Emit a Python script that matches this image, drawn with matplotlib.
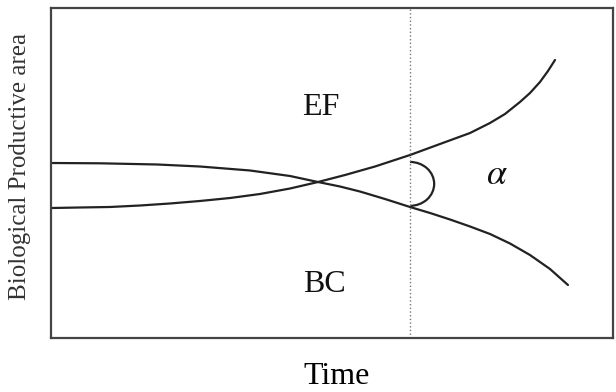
import matplotlib
matplotlib.use("Agg")
import matplotlib.pyplot as plt
from matplotlib.patches import Arc

# Data (abstract units, x: time 0-10, y: area 0-10)
ef_x = [0.0, 0.516, 1.050, 1.584, 2.117, 2.651, 3.185, 3.719, 4.253, 4.751, 5.231, 5.765,
        6.388, 6.922, 7.456, 7.811, 8.078, 8.345, 8.523, 8.701, 8.843, 8.968]
ef_y = [3.939, 3.955, 3.970, 4.015, 4.076, 4.152, 4.242, 4.364, 4.530, 4.727, 4.939, 5.197,
        5.545, 5.879, 6.212, 6.515, 6.788, 7.152, 7.424, 7.758, 8.091, 8.424]
bc_x = [0.0, 0.872, 1.886, 2.651, 3.541, 4.253, 4.751, 5.142, 5.498, 5.943, 6.388, 6.744,
        7.100, 7.456, 7.811, 8.167, 8.523, 8.879, 9.199]
bc_y = [5.303, 5.294, 5.258, 5.197, 5.076, 4.909, 4.727, 4.591, 4.439, 4.212, 3.970, 3.788,
        3.591, 3.379, 3.152, 2.864, 2.515, 2.091, 1.606]
time_marker = 6.388
labels = ["EF", "BC", r"$\alpha$"]
label_x = [4.80, 4.86, 7.94]
label_y = [6.97, 1.61, 4.97]

plt.rcParams["mathtext.fontset"] = "stix"
fig = plt.figure(figsize=(6.16, 3.92), dpi=100)
ax = fig.add_axes([51/616, 1-338/392, (613-51)/616, (338-8)/392])
ax.set_xlim(0, 10)
ax.set_ylim(0, 10)

line_col = "#222222"
ax.plot(ef_x, ef_y, color=line_col, lw=1.6, solid_capstyle="round", solid_joinstyle="round")
ax.plot(bc_x, bc_y, color=line_col, lw=1.6, solid_capstyle="round", solid_joinstyle="round")
ax.axvline(time_marker, color="#777777", lw=1.0, linestyle=":")

arc = Arc((time_marker, 4.67), width=0.86, height=1.33, theta1=-90, theta2=90,
          color=line_col, lw=1.6)
ax.add_patch(arc)

serif = ["Liberation Serif", "DejaVu Serif"]
ax.text(label_x[0], label_y[0], labels[0], ha="center", va="center", fontsize=23, family=serif, color="#111111")
ax.text(label_x[1], label_y[1], labels[1], ha="center", va="center", fontsize=23, family=serif, color="#111111")
ax.text(label_x[2], label_y[2], labels[2], ha="center", va="center", fontsize=26, color="#111111")

ax.set_xticks([])
ax.set_yticks([])
for s in ax.spines.values():
    s.set_color("#444444")
    s.set_linewidth(1.6)

fig.text(337/616, 1-376/392, "Time", ha="center", va="center", fontsize=23, family=serif, color="#000000")
fig.text(20/616, 1-167/392, "Biological Productive area", ha="center", va="center",
         rotation=90, fontsize=18, family=serif, color="#333333")

fig.savefig("out.png", dpi=100)
